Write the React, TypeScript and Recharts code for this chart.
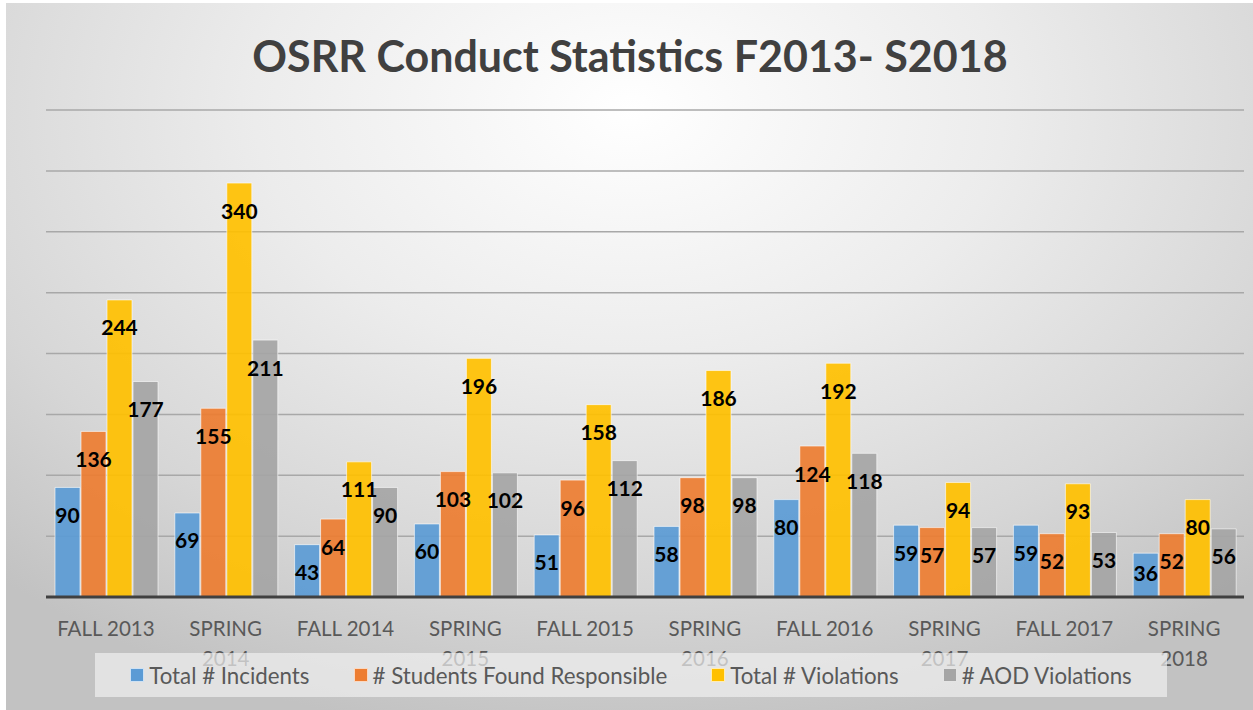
import { BarChart, Bar, XAxis, YAxis, CartesianGrid, LabelList } from 'recharts';

const terms = ['FALL 2013', 'SPRING 2014', 'FALL 2014', 'SPRING 2015', 'FALL 2015', 'SPRING 2016', 'FALL 2016', 'SPRING 2017', 'FALL 2017', 'SPRING 2018'];
const incidents = [90, 69, 43, 60, 51, 58, 80, 59, 59, 36];
const responsible = [136, 155, 64, 103, 96, 98, 124, 57, 52, 52];
const violations = [244, 340, 111, 196, 158, 186, 192, 94, 93, 80];
const aod = [177, 211, 90, 102, 112, 98, 118, 57, 53, 56];
const yTicks = [0, 50, 100, 150, 200, 250, 300, 350, 400];

const series = [
  { key: 'incidents', name: 'Total # Incidents', color: '#5B9BD5' },
  { key: 'responsible', name: '# Students Found Responsible', color: '#ED7D31' },
  { key: 'violations', name: 'Total # Violations', color: '#FFC000' },
  { key: 'aod', name: '# AOD Violations', color: '#A5A5A5' },
];

const data = terms.map((term, i) => ({
  term,
  incidents: incidents[i],
  responsible: responsible[i],
  violations: violations[i],
  aod: aod[i],
}));

const FONT = 'Lato, "Open Sans", sans-serif';

const TermTick = (props: any) => {
  const { x, y, payload } = props;
  const label: string = payload.value;
  const lines = label.length > 9 ? label.split(' ') : [label];
  return (
    <text x={x} y={y + 31} textAnchor="middle" fill="#595959" fontFamily={FONT} fontSize={20.5}>
      {lines.map((l, i) => (
        <tspan key={i} x={x} dy={i === 0 ? 0 : 30}>{l}</tspan>
      ))}
    </text>
  );
};

// y axis is invisible in the original, only its gridlines show
const NoTick = () => <g />;

const ValueLabel = (props: any) => {
  const { x, y, width, height, value } = props;
  const cy = Math.min(y + 27, y + height - 25);
  return (
    <text x={x + width / 2} y={cy} textAnchor="middle" dominantBaseline="central"
      fill="#000" fontFamily={FONT} fontWeight={700} fontSize={21}>
      {value}
    </text>
  );
};

export default function App() {
  return (
    <div style={{ position: 'absolute', left: 0, top: 0, width: 1253, height: 710, background: '#fff', overflow: 'hidden' }}>
      <div style={{
        position: 'absolute', left: 6, top: 3, width: 1247, height: 707,
        background: 'radial-gradient(ellipse 75% 90% at 50% 15%, #ffffff 0%, #ececec 40%, #d6d6d6 75%, #c2c2c2 100%)',
      }} />
      <div style={{
        position: 'absolute', left: 0, top: 34, width: 1260, textAlign: 'center', lineHeight: '43px',
        fontFamily: FONT, fontWeight: 700, fontSize: 43, color: '#404040',
      }}>
        OSRR Conduct Statistics F2013- S2018
      </div>
      <div style={{ position: 'absolute', left: 0, top: 0 }}>
        <BarChart width={1253} height={710} data={data} barCategoryGap={9} barGap={1}
          margin={{ top: 110, right: 9, left: 45, bottom: 53 }}>
          <CartesianGrid vertical={false} stroke="#a8a8a8" strokeWidth={1.5} />
          <YAxis width={1} domain={[0, 400]} ticks={yTicks} tick={<NoTick />} axisLine={false} tickLine={false} />
          <XAxis dataKey="term" height={60} tick={<TermTick />} tickLine={false}
            axisLine={{ stroke: '#404040', strokeWidth: 3 }} interval={0} />
          {series.map((s) => (
            <Bar key={s.key} dataKey={s.key} name={s.name} fill={s.color} fillOpacity={0.92}
              stroke="rgba(255,255,255,0.6)" strokeWidth={1} isAnimationActive={false}>
              <LabelList dataKey={s.key} content={<ValueLabel />} />
            </Bar>
          ))}
        </BarChart>
      </div>
      <div style={{
        position: 'absolute', left: 95, top: 653, width: 1072, height: 44,
        background: 'rgba(240,240,240,0.7)', display: 'flex', alignItems: 'center',
        justifyContent: 'center', gap: 44, fontFamily: FONT, fontSize: 22.3, color: '#595959',
      }}>
        {series.map((s) => (
          <div key={s.key} style={{ display: 'flex', alignItems: 'center' }}>
            <span style={{ display: 'inline-block', width: 12, height: 12, background: s.color, border: '1px solid rgba(255,255,255,0.7)', marginRight: 5 }} />
            <span>{s.name}</span>
          </div>
        ))}
      </div>
    </div>
  );
}
